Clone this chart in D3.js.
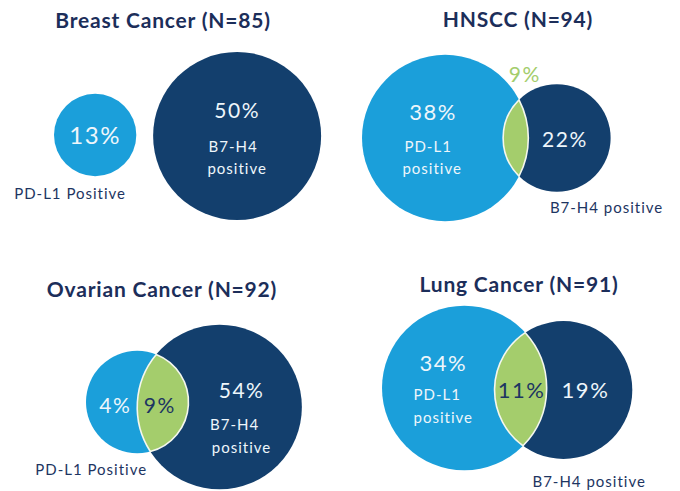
<!DOCTYPE html>
<html>
<head>
<meta charset="utf-8">
<script src="https://cdn.jsdelivr.net/npm/d3@7"></script>
<style>
  body { margin: 0; background: #fff; }
  svg { display: block; font-family: Lato, "Open Sans", sans-serif; }
</style>
</head>
<body>
<svg id="chart"></svg>
<script>
// values per panel
const titles = ["Breast Cancer", "HNSCC", "Ovarian Cancer", "Lung Cancer"];
const sampleN = [85, 94, 92, 91];
const pdl1Only = [13, 38, 4, 34];
const bothPos = [null, 9, 9, 11];
const b7h4Only = [50, 22, 54, 19];
// relative circle sizes (largest circle = 100) and lens width, same units
const pdl1Size = [49, 99, 61, 98];
const b7h4Size = [100, 64, 98, 82];
const overlapSize = [-20, 30, 61, 62];

// where each panel sits
const layout = [
  { left: 54, cyA: 135, cyB: 136, titleX: 163, titleY: 28 },
  { left: 362, cyA: 138, cyB: 138, titleX: 518, titleY: 27 },
  { left: 86, cyA: 402, cyB: 407, titleX: 162, titleY: 297 },
  { left: 382, cyA: 388, cyB: 390, titleX: 519, titleY: 292 }
];

// text placement, relative to circle A, circle B or the lens
const labelSpots = [
  [
    { key: "a", at: "A", dx: 0, dy: 9, size: 24 },
    { key: "b", at: "B", dx: 0, dy: -18, size: 21 },
    { text: "B7-H4", at: "B", dx: -4, dy: 16, size: 15 },
    { text: "positive", at: "B", dx: 0, dy: 38, size: 15 },
    { text: "PD-L1 Positive", at: "A", dx: -81, dy: 64, size: 15, anchor: "start", dark: true }
  ],
  [
    { key: "a", at: "A", dx: -12, dy: -18, size: 22 },
    { text: "PD-L1", at: "A", dx: -17, dy: 14, size: 15 },
    { text: "positive", at: "A", dx: -13, dy: 36, size: 15 },
    { key: "ab", at: "L", dx: 9, dy: -56, size: 21, green: true },
    { key: "b", at: "B", dx: 8, dy: 9, size: 21 },
    { text: "B7-H4 positive", at: "B", dx: -7, dy: 75, size: 15, anchor: "start", dark: true }
  ],
  [
    { key: "a", at: "A", dx: -22, dy: 11, size: 21 },
    { key: "ab", at: "L", dx: -3, dy: 11, size: 21, dark: true },
    { key: "b", at: "B", dx: 22, dy: -9, size: 21 },
    { text: "B7-H4", at: "B", dx: 15, dy: 23, size: 15 },
    { text: "positive", at: "B", dx: 22, dy: 46, size: 15 },
    { text: "PD-L1 Positive", at: "A", dx: -102, dy: 73, size: 15, anchor: "start", dark: true }
  ],
  [
    { key: "a", at: "A", dx: -21, dy: -17, size: 22 },
    { text: "PD-L1", at: "A", dx: -27, dy: 12, size: 15 },
    { text: "positive", at: "A", dx: -21, dy: 35, size: 15 },
    { key: "ab", at: "L", dx: 1, dy: 10, size: 22, dark: true },
    { key: "b", at: "B", dx: 22, dy: 8, size: 22 },
    { text: "B7-H4 positive", at: "B", dx: -31, dy: 97, size: 15, anchor: "start", dark: true }
  ]
];

const colors = { a: "#1b9fda", b: "#133f6d", lens: "#a4cd6c", title: "#1c2e5a", label: "#1d3562", light: "#eef6fb" };

const width = 680, height = 491;
const svg = d3.select("#chart").attr("width", width).attr("height", height);

// size units -> pixels
const rScale = d3.scaleLinear().domain([0, 100]).range([0, 84]);

titles.forEach((title, i) => {
  const L = layout[i];
  const g = svg.append("g").attr("class", "panel");

  const rA = rScale(pdl1Size[i]);
  const rB = rScale(b7h4Size[i]);
  const cxA = L.left + rA;
  const cxB = cxA + rA + rB - rScale(overlapSize[i]);
  const A = { x: cxA, y: L.cyA, r: rA };
  const B = { x: cxB, y: L.cyB, r: rB };

  g.append("text")
    .attr("x", L.titleX)
    .attr("y", L.titleY)
    .attr("text-anchor", "middle")
    .attr("font-size", 21)
    .attr("font-weight", 700)
    .attr("letter-spacing", 0.8)
    .attr("fill", colors.title)
    .text(`${title} (N=${sampleN[i]})`);

  g.append("circle").attr("cx", A.x).attr("cy", A.y).attr("r", A.r).attr("fill", colors.a);
  g.append("circle").attr("cx", B.x).attr("cy", B.y).attr("r", B.r).attr("fill", colors.b);

  // lens where both circles overlap
  let lensX = (B.x - B.r + A.x + A.r) / 2;
  if (bothPos[i] != null) {
    const dxAB = B.x - A.x, dyAB = B.y - A.y;
    const d = Math.hypot(dxAB, dyAB);
    const a = (A.r * A.r - B.r * B.r + d * d) / (2 * d);
    const h = Math.sqrt(A.r * A.r - a * a);
    const mx = A.x + a * dxAB / d, my = A.y + a * dyAB / d;
    const p1 = [mx + h * dyAB / d, my - h * dxAB / d];
    const p2 = [mx - h * dyAB / d, my + h * dxAB / d];
    const top = p1[1] < p2[1] ? p1 : p2, bot = p1[1] < p2[1] ? p2 : p1;
    const largeA = a < 0 ? 1 : 0, largeB = d - a < 0 ? 1 : 0;
    const path = `M${top[0]},${top[1]} A${A.r},${A.r} 0 ${largeA} 1 ${bot[0]},${bot[1]} A${B.r},${B.r} 0 ${largeB} 1 ${top[0]},${top[1]}Z`;
    g.append("path")
      .attr("d", path)
      .attr("fill", colors.lens)
      .attr("stroke", "#f4f7ee")
      .attr("stroke-width", 1.6);
  }

  const values = { a: pdl1Only[i], b: b7h4Only[i], ab: bothPos[i] };
  const base = { A: [A.x, A.y], B: [B.x, B.y], L: [lensX, A.y] };

  g.selectAll("text.lbl")
    .data(labelSpots[i])
    .join("text")
    .attr("class", "lbl")
    .attr("x", d => base[d.at][0] + d.dx)
    .attr("y", d => base[d.at][1] + d.dy)
    .attr("text-anchor", d => d.anchor || "middle")
    .attr("font-size", d => d.size)
    .attr("letter-spacing", d => d.key ? 1.5 : 1)
    .attr("fill", d => d.green ? colors.lens : d.dark ? colors.label : colors.light)
    .text(d => d.key ? `${values[d.key]}%` : d.text);
});
</script>
</body>
</html>
